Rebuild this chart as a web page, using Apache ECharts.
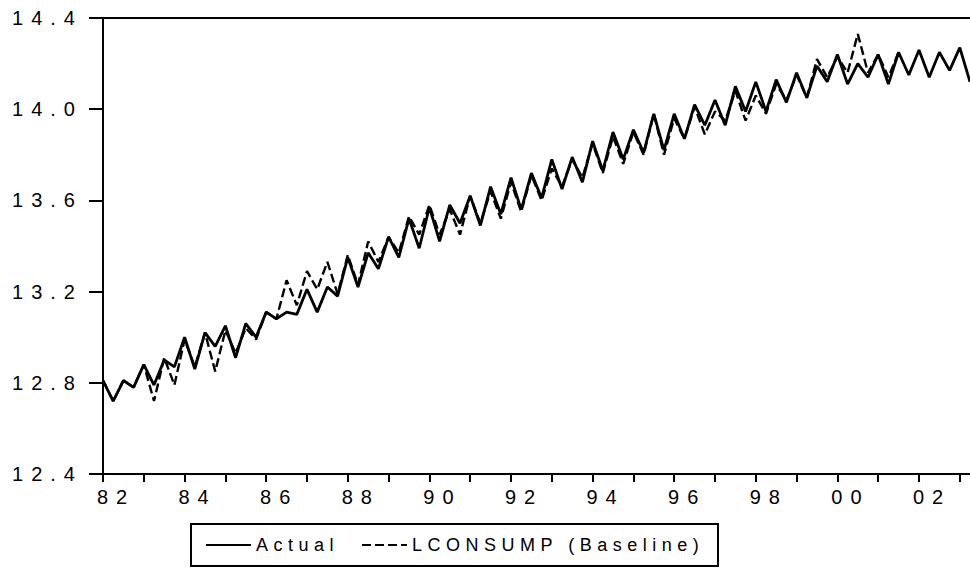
<!DOCTYPE html>
<html>
<head>
<meta charset="utf-8">
<script src="https://cdn.jsdelivr.net/npm/echarts@6/dist/echarts.min.js"></script>
<style>
  html, body { margin: 0; padding: 0; background: #fff; }
  #chart { width: 970px; height: 585px; }
</style>
</head>
<body>
<div id="chart"></div>
<script>
// quarterly sample, 1982Q1 .. 2003Q2
const firstYear = 1982;
const quarterCount = 86;
const quarters = [];
for (let i = 0; i < quarterCount; i++) {
  quarters.push((firstYear + Math.floor(i / 4)) + 'Q' + (i % 4 + 1));
}

const actual = [
  12.81, 12.72, 12.81, 12.78, 12.88, 12.79, 12.90, 12.87, 13.00, 12.86,
  13.02, 12.96, 13.05, 12.91, 13.06, 13.00, 13.11, 13.08, 13.11, 13.10,
  13.21, 13.11, 13.22, 13.18, 13.35, 13.22, 13.37, 13.30, 13.44, 13.35,
  13.52, 13.39, 13.57, 13.42, 13.58, 13.50, 13.62, 13.49, 13.66, 13.54,
  13.70, 13.56, 13.72, 13.61, 13.78, 13.65, 13.79, 13.68, 13.86, 13.73,
  13.90, 13.78, 13.91, 13.81, 13.98, 13.82, 13.98, 13.87, 14.02, 13.93,
  14.04, 13.93, 14.10, 13.99, 14.12, 13.99, 14.13, 14.03, 14.16, 14.05,
  14.19, 14.12, 14.24, 14.11, 14.20, 14.14, 14.24, 14.11, 14.25, 14.15,
  14.26, 14.14, 14.25, 14.17, 14.27, 14.12
];

// baseline simulation, ends 2001Q3
const baseline = [
  12.81, 12.72, 12.81, 12.78, 12.88, 12.72, 12.91, 12.79, 12.99, 12.87,
  13.02, 12.85, 13.03, 12.93, 13.04, 12.99, 13.11, 13.08, 13.25, 13.14,
  13.29, 13.21, 13.33, 13.19, 13.36, 13.23, 13.42, 13.33, 13.44, 13.37,
  13.53, 13.45, 13.58, 13.45, 13.56, 13.45, 13.62, 13.50, 13.64, 13.52,
  13.68, 13.55, 13.71, 13.60, 13.74, 13.66, 13.78, 13.70, 13.85, 13.72,
  13.88, 13.76, 13.90, 13.80, 13.98, 13.80, 13.96, 13.87, 14.01, 13.89,
  13.99, 13.95, 14.08, 13.95, 14.06, 13.98, 14.11, 14.04, 14.15, 14.05,
  14.22, 14.14, 14.23, 14.16, 14.33, 14.16, 14.24, 14.14, 14.25
];

const yMin = 12.4, yMax = 14.4, yStep = 0.4;
const font = '"Liberation Sans", Arial, sans-serif';

const chart = echarts.init(document.getElementById('chart'), null, {renderer: 'svg'});

chart.setOption({
  backgroundColor: '#fff',
  animation: false,
  grid: {left: 103, right: 0, top: 18, bottom: 111},
  xAxis: [{
    type: 'category',
    data: quarters,
    boundaryGap: false,
    axisLine: {lineStyle: {color: '#000', width: 2}},
    axisTick: {interval: 3, length: 8, lineStyle: {color: '#000', width: 2}},
    axisLabel: {
      interval: 7,
      margin: 13,
      padding: [0, 0, 0, 26],
      color: '#000',
      fontFamily: font,
      fontSize: 20,
      formatter: v => v.slice(2, 4)
    },
    splitLine: {show: false}
  }, {
    type: 'category',
    data: quarters,
    position: 'top',
    boundaryGap: false,
    axisLine: {lineStyle: {color: '#000', width: 2}},
    axisTick: {show: false},
    axisLabel: {show: false}
  }],
  yAxis: {
    type: 'value',
    min: yMin,
    max: yMax,
    interval: yStep,
    axisLine: {show: true, lineStyle: {color: '#000', width: 2}},
    axisTick: {show: true, length: 14, lineStyle: {color: '#000', width: 2}},
    axisLabel: {
      margin: 20,
      color: '#000',
      fontFamily: font,
      fontSize: 20,
      formatter: v => v.toFixed(1)
    },
    splitLine: {show: false}
  },
  legend: {
    left: 191,
    top: 524,
    orient: 'horizontal',
    padding: [11, 14, 11, 14],
    borderColor: '#000',
    borderWidth: 2,
    borderRadius: 0,
    itemWidth: 45,
    itemHeight: 14,
    itemGap: 17,
    itemStyle: {color: 'rgba(0,0,0,0)', borderColor: 'rgba(0,0,0,0)', borderWidth: 0},
    textStyle: {color: '#000', fontFamily: font, fontSize: 18, lineHeight: 20},
    data: [
      {name: 'Actual', textStyle: {width: 88}},
      {name: 'LCONSUMP (Baseline)', textStyle: {width: 292}}
    ]
  },
  series: [{
    name: 'Actual',
    type: 'line',
    data: actual,
    symbol: 'none',
    lineStyle: {color: '#000', width: 2.8, type: 'solid'},
    itemStyle: {color: '#000'},
    z: 3
  }, {
    name: 'LCONSUMP (Baseline)',
    type: 'line',
    data: baseline,
    symbol: 'none',
    lineStyle: {color: '#000', width: 2.4, type: [9, 4]},
    itemStyle: {color: '#000'},
    z: 2
  }]
});

// spread the letters out like the original print
function spaceLetters() {
  document.querySelectorAll('#chart svg text').forEach(t => {
    const size = parseFloat(getComputedStyle(t).fontSize);
    t.setAttribute('letter-spacing', size >= 20 ? '8' : '5.5');
  });
}
chart.on('finished', spaceLetters);
spaceLetters();
</script>
</body>
</html>
